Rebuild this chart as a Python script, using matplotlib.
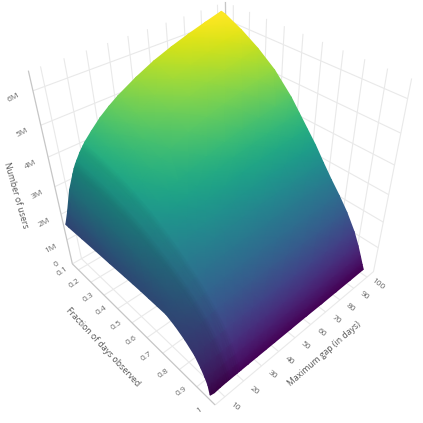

import numpy as np, matplotlib
matplotlib.use('Agg')
import matplotlib.pyplot as plt
from mpl_toolkits.mplot3d import proj3d
plt.rcParams['font.family'] = ['Open Sans', 'DejaVu Sans']

# tick text
frac_ticks = [.05, .1, .2, .3, .4, .5, .6, .7, .8, .9, 1.0]
frac_labels = ['0', '0.1', '0.2', '0.3', '0.4', '0.5', '0.6', '0.7', '0.8', '0.9', '1']
gap_ticks = [10, 20, 30, 40, 50, 60, 70, 80, 90, 100]
z_ticks = [1, 2, 3, 4, 5, 6]
z_labels = ['1M', '2M', '3M', '4M', '5M', '6M']

# surface grid (users in millions)
fractions = [.075, .1, .2, .3, .4, .5, .55, .6, .65, .7, .75, .8, .85, .9, .93, .95, .965, .975]
gaps = [5, 7, 10, 13, 14, 15, 16, 18, 19, 20, 21, 25, 30, 35, 40, 50, 60, 70, 80, 90, 100]
users = [
 [1.72,2.11,2.80,3.27,3.42,3.54,3.64,3.84,3.92,4.00,4.08,4.33,4.62,4.85,5.05,5.38,5.66,5.88,6.07,6.24,6.40],
 [1.72,2.11,2.79,3.26,3.41,3.53,3.63,3.83,3.90,3.98,4.06,4.31,4.60,4.83,5.02,5.35,5.63,5.85,6.03,6.20,6.36],
 [1.75,2.11,2.77,3.22,3.36,3.47,3.57,3.75,3.83,3.90,3.98,4.21,4.48,4.69,4.87,5.17,5.42,5.62,5.79,5.95,6.09],
 [1.78,2.10,2.73,3.15,3.29,3.39,3.48,3.65,3.72,3.79,3.86,4.07,4.31,4.50,4.67,4.93,5.16,5.34,5.49,5.62,5.75],
 [1.80,2.08,2.66,3.05,3.17,3.27,3.34,3.50,3.56,3.62,3.68,3.87,4.08,4.25,4.39,4.63,4.82,4.97,5.10,5.21,5.32],
 [1.83,2.03,2.56,2.89,3.00,3.08,3.15,3.28,3.33,3.38,3.43,3.58,3.76,3.89,4.00,4.19,4.34,4.45,4.55,4.64,4.72],
 [1.84,2.00,2.48,2.78,2.88,2.95,3.01,3.12,3.17,3.21,3.26,3.38,3.54,3.65,3.75,3.90,4.03,4.12,4.20,4.27,4.34],
 [1.85,1.96,2.39,2.66,2.75,2.81,2.86,2.96,3.00,3.04,3.08,3.18,3.31,3.40,3.48,3.61,3.71,3.79,3.85,3.91,3.96],
 [1.85,1.93,2.30,2.53,2.61,2.66,2.70,2.79,2.82,2.85,2.88,2.97,3.07,3.15,3.21,3.31,3.39,3.45,3.50,3.54,3.58],
 [1.85,1.90,2.17,2.37,2.43,2.48,2.51,2.58,2.60,2.62,2.65,2.71,2.79,2.85,2.89,2.96,3.02,3.06,3.09,3.11,3.14],
 [1.85,1.88,2.05,2.20,2.26,2.29,2.31,2.36,2.38,2.40,2.42,2.46,2.51,2.55,2.58,2.62,2.65,2.67,2.69,2.70,2.72],
 [1.72,1.75,1.84,1.97,2.01,2.04,2.05,2.09,2.10,2.12,2.13,2.16,2.20,2.22,2.24,2.27,2.29,2.31,2.31,2.32,2.33],
 [1.53,1.55,1.58,1.67,1.71,1.73,1.74,1.77,1.77,1.78,1.79,1.81,1.84,1.85,1.86,1.87,1.89,1.89,1.89,1.90,1.90],
 [1.27,1.28,1.29,1.29,1.32,1.33,1.33,1.35,1.35,1.35,1.36,1.36,1.37,1.38,1.38,1.38,1.38,1.38,1.37,1.37,1.37],
 [1.00,.99,.97,.96,.97,.97,.98,.98,.98,.98,.99,.98,.99,.98,.98,.97,.97,.96,.96,.95,.95],
 [.77,.73,.66,.66,.68,.68,.69,.68,.69,.68,.68,.68,.67,.67,.66,.65,.65,.64,.63,.62,.62],
 [.55,.48,.43,.44,.44,.44,.43,.43,.43,.43,.43,.42,.41,.41,.40,.39,.38,.38,.37,.36,.36],
 [.22,.18,.20,.21,.21,.21,.21,.21,.21,.21,.21,.21,.21,.21,.21,.21,.21,.20,.20,.20,.20],
]
# lighting of the steep low-gap part of the surface
shade_gaps = [5, 14, 15, 16, 19, 20, 21, 100]
shade_values = [.82, .84, .88, .92, .93, .96, 1, 1]
Z_COLOR_MAX = 6.3

FMIN, FMAX, GMIN, GMAX, ZTOP = .05, 1, 5, 105, 6.55

# camera calibrated from the box corners and z ticks of the scene
world = [(.05, 5, 0), (1, 5, 0), (1, 105, 0), (.05, 5, 6.55), (.05, 105, 6.55), (1, 105, 6.55)]
pixels = [(71.7, 261.7), (217, 405), (373, 273), (28, 70), (227, 2), (410.3, 76.7)]
for zv, v0 in [(6, 91), (5, 127), (4, 158), (3, 187), (2, 214), (1, 240)]:
    t = (v0 - 262) / (70 - 262)
    world.append((.05, 5, zv))
    pixels.append((71.7 + (28 - 71.7) * t, v0))
A, b = [], []
for (x, y, z), (u, v) in zip(world, pixels):
    A.append([x, y, z, 1, 0, 0, 0, 0, -u*x, -u*y, -u*z]); b.append(u)
    A.append([0, 0, 0, 0, x, y, z, 1, -v*x, -v*y, -v*z]); b.append(v)
P = np.append(np.linalg.lstsq(np.array(A, float), np.array(b, float), rcond=None)[0], 1).reshape(3, 4)
M = np.vstack([P[0], P[1], [0, 0, 0, -1], P[2]])

def scr(f, g, z):
    f, g, z = np.broadcast_arrays(np.ravel(f).astype(float), np.ravel(g).astype(float), np.ravel(z).astype(float))
    x, y, _ = proj3d.proj_transform(f, g, z, M)
    return x, y

fig = plt.figure(figsize=(4.23, 4.23), dpi=100)
ov = fig.add_axes([0, 0, 1, 1])
ov.set_xlim(0, 423); ov.set_ylim(423, 0); ov.axis('off')
gc, lc = '#e9e9e9', '#c6c6c6'

def line3(fs, gs, zs, c, lw):
    x, y = scr(fs, gs, zs)
    ov.plot(x, y, c=c, lw=lw, solid_capstyle='butt')

for f in frac_ticks:
    line3([f, f, f], [GMIN, GMAX, GMAX], [0, 0, ZTOP], gc, .8)
for g in gap_ticks:
    line3([FMAX, FMIN, FMIN], [g, g, g], [0, 0, ZTOP], gc, .8)
for z in z_ticks:
    line3([FMIN, FMIN, FMAX], [GMIN, GMAX, GMAX], [z, z, z], gc, .8)
line3([FMIN, FMIN], [GMIN, GMIN], [0, ZTOP], lc, .9)
line3([FMIN, FMAX], [GMIN, GMIN], [0, 0], lc, .9)
line3([FMIN, FMIN], [GMAX, GMAX], [0, ZTOP], lc, .9)

tc = '#666666'
def tick(f, g, z, s, rot):
    x, y = scr(f, g, z)
    ov.text(x[0], y[0], s, fontsize=6, color=tc, ha='center', va='center', rotation=rot)

for f, l in zip(frac_ticks, frac_labels):
    tick(f, -2.5, .3, l, 35)
for g in gap_ticks:
    tick(1.055, g, 0, str(g), -38)
for z, l in zip(z_ticks, z_labels):
    tick(FMIN, -3, z, l, 28)

fr, ga, Z = np.array(fractions), np.array(gaps, float), np.array(users)
FF, GG = np.meshgrid(fr, ga, indexing='ij')
X, Y = scr(FF, GG, Z)
X, Y = X.reshape(FF.shape), Y.reshape(FF.shape)
col = plt.get_cmap('viridis')(np.clip((Z - Z.min()) / (Z_COLOR_MAX - Z.min()), 0, 1))
col[..., :3] *= np.interp(GG, shade_gaps, shade_values)[..., None]
ov.pcolormesh(X, Y, col, shading='gouraud', zorder=3)

ts = '#555555'
ov.text(16, 195, 'Number of users', fontsize=6.2, color=ts, rotation=-74, ha='center', va='center')
ov.text(103, 347, 'Fraction of days observed', fontsize=6.2, color=ts, rotation=-47, ha='center', va='center')
ov.text(324, 354, 'Maximum gap (in days)', fontsize=6.2, color=ts, rotation=41, ha='center', va='center')
fig.savefig('out.png', dpi=100)
